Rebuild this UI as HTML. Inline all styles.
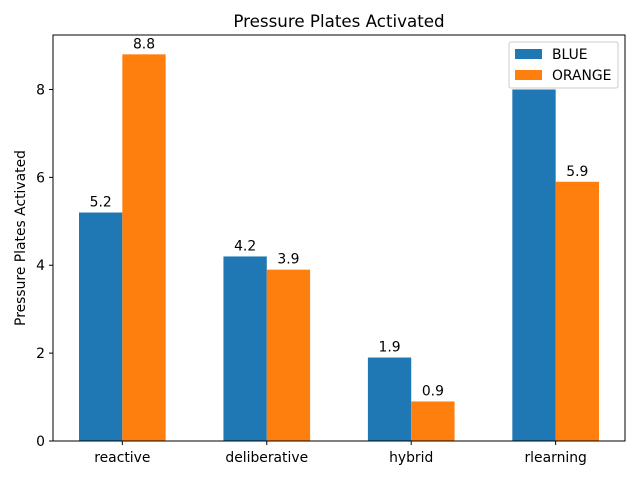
<!DOCTYPE html>
<html><head><meta charset="utf-8"><style>
body{margin:0;background:#fff}
svg{font-family:"DejaVu Sans","Liberation Sans",sans-serif}
</style></head><body>
<svg id="chart" width="640" height="480" viewBox="0 0 640 480">
<rect width="640" height="480" fill="#fff"/>
<text x="339" y="27" text-anchor="middle" font-size="16.7">Pressure Plates Activated</text>
<g id="bars"></g>
<g id="axes"></g>
<text transform="translate(25,238) rotate(-90)" text-anchor="middle" font-size="13.9">Pressure Plates Activated</text>
<g>
<rect x="509" y="42" width="109" height="46" fill="#fff" stroke="#ccc" rx="2"/>
<rect x="515" y="49" width="27" height="10" fill="#1f77b4"/>
<text x="552" y="59" font-size="13.9">BLUE</text>
<rect x="515" y="70" width="27" height="10" fill="#ff7f0e"/>
<text x="552" y="80" font-size="13.9">ORANGE</text>
</g>
</svg>
<script>
const categories=["reactive","deliberative","hybrid","rlearning"];
const blueValues=[5.2,4.2,1.9,8.0];
const orangeValues=[8.8,3.9,0.9,5.9];
const yTicks=[0,2,4,6,8];
const NS="http://www.w3.org/2000/svg";
const L=53,R=625,T=35,B=441;
const yMax=Math.max(...blueValues,...orangeValues)*1.05;
const xMin=-0.48,xMax=categories.length-1+0.48;
const xs=v=>L+(v-xMin)/(xMax-xMin)*(R-L);
const ys=v=>B-v/yMax*(B-T);
const bw=0.3;
function mk(tag,attrs,parent){const e=document.createElementNS(NS,tag);for(const k in attrs)e.setAttribute(k,attrs[k]);parent.appendChild(e);return e;}
const bars=document.getElementById('bars'),axes=document.getElementById('axes');
[[blueValues,"#1f77b4",-bw/2,"blue"],[orangeValues,"#ff7f0e",bw/2,"orange"]].forEach(([vals,col,off,nm])=>{
vals.forEach((v,i)=>{
const x0=xs(i+off-bw/2),x1=xs(i+off+bw/2);
const r=mk('rect',{x:x0,y:ys(v),width:x1-x0,height:B-ys(v),fill:col},bars);


const t=mk('text',{x:(x0+x1)/2,y:ys(v)-6,'text-anchor':'middle','font-size':'13.9'},bars);
t.textContent=v.toFixed(1);


});});
const frame=mk('rect',{x:L,y:T,width:R-L,height:B-T,fill:'none',stroke:'#000','stroke-width':1},axes);


yTicks.forEach(v=>{
const y=ys(v);
mk('line',{x1:L-4,x2:L,y1:y,y2:y,stroke:'#000'},axes);
const t=mk('text',{x:L-8,y:y+5,'text-anchor':'end','font-size':'13.9'},axes);
t.textContent=v;


});
categories.forEach((c,i)=>{
const x=xs(i);
mk('line',{x1:x,x2:x,y1:B,y2:B+4,stroke:'#000'},axes);
const t=mk('text',{x:x,y:B+21,'text-anchor':'middle','font-size':'13.9'},axes);
t.textContent=c;


});
</script>
</body></html>
